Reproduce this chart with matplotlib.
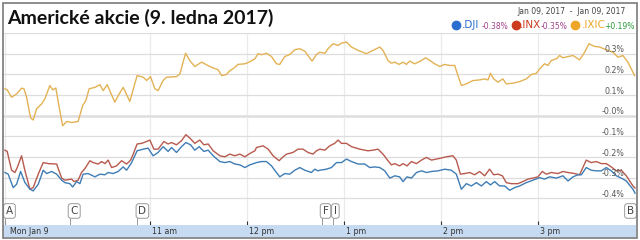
import matplotlib
matplotlib.use("Agg")
from matplotlib import pyplot as plt
from matplotlib.lines import Line2D
from matplotlib.patches import Rectangle
import matplotlib.transforms as mtransforms
import numpy as np

# minutes after 9:30 open, percent change vs previous close
ixic_t = [0, 1.4, 4.1, 7.2, 10.3, 11.8, 13.4, 15.9, 17.5, 19.6, 22.7, 24.7, 27.8, 29.5, 31.5,
          33.6, 35.7, 38.2, 41.3, 45.3, 48.1, 50.1, 52.1, 55.7, 58.8, 60.8, 63.3, 68.0, 70.1,
          73.2, 77.3, 81.8, 85.6, 87.7, 90.1, 92.8, 94.8, 97.9, 100.0, 106.2, 108.3, 111.8,
          114.4, 117.5, 121.7, 124.8, 127.9, 131.9, 134.1, 137.1, 139.2, 141.2, 144.3, 148.5,
          151.1, 154.7, 156.7, 158.8, 161.9, 165.0, 168.1, 170.1, 173.2, 176.3, 179.4, 182.5,
          185.6, 190.1, 192.8, 194.9, 198.0, 200.0, 203.1, 206.2, 208.3, 211.4, 214.5, 218.6,
          223.7, 227.8, 232.0, 234.0, 237.1, 239.2, 241.3, 243.9, 246.4, 248.5, 250.5, 253.6,
          256.7, 260.4, 263.0, 266.0, 269.1, 272.2, 275.3, 278.4, 280.4, 282.5, 285.6, 289.7,
          293.8, 296.9, 299.0, 300.5, 302.5, 305.2, 308.2, 310.3, 314.4, 318.6, 322.7, 325.8,
          328.9, 331.0, 334.0, 336.1, 338.2, 341.3, 343.3, 345.4, 348.5, 351.6, 355.7, 358.8,
          361.5, 365.0, 368.1, 372.2, 376.3, 379.4, 382.5, 385.6, 389.7]
ixic_v = [0.130, 0.125, 0.089, 0.105, 0.133, 0.130, 0.089, -0.011, -0.021, 0.033, 0.057, 0.081,
          0.146, 0.125, 0.134, 0.040, -0.049, -0.028, -0.033, -0.028, 0.049, 0.073, 0.130, 0.137,
          0.150, 0.121, 0.150, 0.065, 0.097, 0.137, 0.069, 0.194, 0.186, 0.170, 0.189, 0.130,
          0.121, 0.170, 0.186, 0.189, 0.202, 0.302, 0.267, 0.238, 0.259, 0.246, 0.234, 0.222,
          0.194, 0.199, 0.218, 0.227, 0.248, 0.251, 0.259, 0.275, 0.300, 0.295, 0.302, 0.286,
          0.251, 0.248, 0.286, 0.296, 0.319, 0.324, 0.312, 0.264, 0.296, 0.307, 0.302, 0.324,
          0.348, 0.340, 0.351, 0.356, 0.332, 0.316, 0.300, 0.316, 0.332, 0.316, 0.267, 0.254,
          0.259, 0.248, 0.259, 0.248, 0.264, 0.251, 0.262, 0.280, 0.267, 0.251, 0.238, 0.248,
          0.243, 0.243, 0.194, 0.146, 0.154, 0.170, 0.173, 0.178, 0.173, 0.205, 0.178, 0.162,
          0.178, 0.154, 0.157, 0.165, 0.178, 0.199, 0.205, 0.227, 0.251, 0.243, 0.267, 0.275,
          0.291, 0.280, 0.286, 0.291, 0.270, 0.307, 0.348, 0.335, 0.332, 0.319, 0.307, 0.283,
          0.291, 0.259, 0.194]

inx_t = [0, 1.4, 4.1, 6.2, 7.6, 10.3, 12.4, 15.5, 17.5, 20.6, 23.7, 26.8, 32.0, 35.1, 37.1,
         41.3, 42.7, 45.3, 47.4, 49.5, 52.6, 54.6, 57.7, 59.8, 61.9, 63.9, 66.0, 69.1, 72.2,
         75.3, 77.8, 79.4, 81.8, 84.6, 87.7, 89.7, 92.2, 94.8, 98.4, 101.0, 103.1, 106.2, 109.3,
         112.0, 114.4, 117.5, 120.6, 123.1, 125.8, 128.9, 133.0, 136.1, 139.2, 142.3, 145.4,
         148.5, 151.6, 154.7, 155.7, 159.8, 162.9, 166.0, 169.7, 172.2, 174.3, 178.3, 181.4,
         184.5, 187.6, 190.7, 192.8, 194.9, 198.0, 201.0, 204.1, 206.2, 208.3, 211.4, 214.5,
         219.6, 224.7, 227.8, 230.9, 234.0, 237.1, 239.2, 241.3, 244.3, 246.4, 248.9, 251.6,
         254.7, 257.8, 260.9, 264.0, 267.1, 270.1, 273.2, 277.3, 279.4, 281.9, 284.6, 287.7,
         290.7, 293.8, 296.9, 300.0, 302.5, 305.2, 307.9, 310.3, 313.4, 317.5, 320.6, 323.7,
         326.8, 329.9, 332.6, 335.1, 338.2, 342.3, 345.4, 348.5, 352.6, 355.7, 357.7, 359.8,
         362.9, 366.0, 369.1, 372.2, 375.3, 378.4, 381.5, 384.6, 388.7, 390]
inx_v = [-0.167, -0.173, -0.264, -0.275, -0.251, -0.194, -0.267, -0.356, -0.348, -0.283, -0.227,
         -0.232, -0.234, -0.302, -0.312, -0.307, -0.319, -0.312, -0.275, -0.256, -0.218, -0.227,
         -0.234, -0.222, -0.232, -0.215, -0.251, -0.243, -0.218, -0.234, -0.215, -0.186, -0.137,
         -0.134, -0.125, -0.118, -0.162, -0.162, -0.125, -0.137, -0.130, -0.141, -0.121, -0.092,
         -0.108, -0.134, -0.118, -0.141, -0.137, -0.170, -0.194, -0.199, -0.186, -0.194, -0.186,
         -0.199, -0.183, -0.170, -0.154, -0.146, -0.162, -0.194, -0.218, -0.199, -0.186, -0.178,
         -0.162, -0.162, -0.178, -0.186, -0.170, -0.162, -0.167, -0.146, -0.134, -0.118, -0.134,
         -0.134, -0.150, -0.162, -0.170, -0.167, -0.162, -0.186, -0.218, -0.238, -0.232, -0.243,
         -0.232, -0.243, -0.222, -0.232, -0.215, -0.202, -0.215, -0.210, -0.205, -0.199, -0.194,
         -0.215, -0.283, -0.280, -0.275, -0.286, -0.270, -0.291, -0.259, -0.286, -0.283, -0.291,
         -0.324, -0.329, -0.329, -0.319, -0.307, -0.302, -0.296, -0.270, -0.283, -0.275, -0.280,
         -0.270, -0.275, -0.280, -0.286, -0.251, -0.215, -0.227, -0.222, -0.232, -0.232, -0.248,
         -0.267, -0.264, -0.291, -0.340, -0.350]

dji_t = [0, 2.0, 5.1, 7.2, 9.7, 12.4, 15.5, 17.5, 20.6, 23.7, 25.8, 28.9, 32.0, 35.1, 37.1,
         40.2, 41.9, 44.4, 46.4, 48.4, 51.5, 55.7, 58.8, 61.9, 63.9, 67.0, 70.1, 73.2, 75.3,
         78.4, 81.8, 85.6, 88.6, 91.7, 94.8, 97.9, 101.0, 103.1, 106.2, 109.3, 112.0, 114.9,
         117.5, 120.2, 123.1, 125.8, 128.9, 133.0, 136.1, 139.2, 142.3, 145.4, 148.5, 151.6,
         155.7, 158.8, 161.9, 165.0, 170.1, 173.2, 176.3, 179.4, 182.5, 185.6, 189.7, 191.8,
         193.8, 194.9, 199.0, 202.1, 205.2, 208.3, 211.4, 214.5, 218.6, 222.7, 225.8, 228.9,
         232.0, 235.1, 238.2, 241.3, 244.3, 246.4, 248.9, 251.6, 254.7, 257.8, 260.9, 264.0,
         268.1, 272.2, 276.3, 279.4, 282.5, 285.6, 288.7, 291.8, 294.9, 298.0, 300.5, 303.1,
         306.2, 309.3, 312.4, 315.5, 318.6, 322.7, 326.8, 331.0, 334.0, 337.1, 341.3, 345.4,
         348.5, 351.6, 354.7, 356.8, 359.8, 362.9, 366.0, 369.1, 372.2, 375.3, 378.4, 381.5,
         384.6, 388.7, 390]
dji_v = [-0.275, -0.283, -0.348, -0.332, -0.270, -0.324, -0.356, -0.364, -0.332, -0.264, -0.280,
         -0.270, -0.283, -0.312, -0.324, -0.329, -0.345, -0.319, -0.329, -0.283, -0.280, -0.296,
         -0.283, -0.286, -0.275, -0.280, -0.270, -0.248, -0.264, -0.227, -0.170, -0.162, -0.157,
         -0.194, -0.178, -0.150, -0.173, -0.154, -0.178, -0.150, -0.130, -0.141, -0.167, -0.150,
         -0.173, -0.167, -0.194, -0.222, -0.227, -0.222, -0.234, -0.238, -0.251, -0.238, -0.227,
         -0.222, -0.222, -0.243, -0.296, -0.280, -0.283, -0.264, -0.251, -0.264, -0.275, -0.259,
         -0.267, -0.264, -0.259, -0.251, -0.227, -0.227, -0.210, -0.222, -0.234, -0.234, -0.251,
         -0.248, -0.251, -0.267, -0.302, -0.291, -0.296, -0.319, -0.296, -0.302, -0.275, -0.267,
         -0.275, -0.270, -0.267, -0.259, -0.264, -0.283, -0.356, -0.329, -0.340, -0.324, -0.340,
         -0.319, -0.335, -0.319, -0.340, -0.340, -0.361, -0.348, -0.340, -0.324, -0.312, -0.300,
         -0.307, -0.296, -0.302, -0.291, -0.316, -0.296, -0.286, -0.286, -0.251, -0.264, -0.267,
         -0.267, -0.251, -0.267, -0.291, -0.302, -0.316, -0.356, -0.375]

y_ticks = [0.3, 0.2, 0.1, 0.0, -0.1, -0.2, -0.3, -0.4]
y_labels = ['0.3%', '0.2%', '0.1%', '-0.0%', '-0.1%', '-0.2%', '-0.3%', '-0.4%']
hour_ticks = [0, 90, 150, 210, 270, 330]
hour_labels = ['Mon Jan 9', '11 am', '12 pm', '1 pm', '2 pm', '3 pm']
event_labels = ['A', 'C', 'D', 'F', 'I', 'B']
event_times = [0, 40, 82, 196, 203, 390]

legend_names = ['.DJI', '.INX', '.IXIC']
legend_changes = ['-0.38%', '-0.35%', '+0.19%']

W, H = 640, 240
fig = plt.figure(figsize=(6.4, 2.4), dpi=100)


def box(l, t, r, b):
    return [l / W, 1 - b / H, (r - l) / W, (b - t) / H]


def fp(x, y):
    return x / W, 1 - y / H


ax = fig.add_axes(box(3, 33, 636, 225))
ax.set_xlim(-1.2, 390.6)
ax.set_ylim(-0.529, 0.4)
for s in ax.spines.values():
    s.set_visible(False)

ax.set_yticks([0.4] + y_ticks)
ax.set_xticks(hour_ticks)
ax.grid(axis='y', color='#dddddd', lw=0.9)
ax.grid(axis='x', color='#eaeaea', lw=0.9)
ax.tick_params(axis='y', length=0, labelleft=False)
ax.tick_params(axis='x', direction='in', length=3, width=0.8, color='#333333',
               labelbottom=False, pad=0)
ax.axhline(0.0, color='#8c8380', lw=1.0, zorder=1.5)

ax.plot(ixic_t, ixic_v, color='#e3b255', lw=1.0, zorder=3)
ax.plot(inx_t, inx_v, color='#b85a4e', lw=1.0, zorder=3)
ax.plot(dji_t, dji_v, color='#3f7db5', lw=1.0, zorder=3)

trans_y = mtransforms.blended_transform_factory(ax.transAxes, ax.transData)
for v, lab in zip(y_ticks, y_labels):
    ax.text(0.981, v + 0.006, lab, transform=trans_y, ha='right', va='baseline',
            fontsize=5.7, color='#555555', zorder=4)

# event flags
trans_x = mtransforms.blended_transform_factory(ax.transData, ax.transAxes)
for t, lab in zip(event_times, event_labels):
    ha = 'right' if t >= 389 else 'left'
    ax.text(t + (-0.6 if ha == 'right' else 0.6), 0.073, lab, transform=trans_x, ha=ha,
            va='center', fontsize=7.5, color='#444444', zorder=5,
            bbox=dict(boxstyle='round,pad=0.22,rounding_size=0.25', fc='white', ec='#9a9a9a', lw=0.7))
    if ha == 'left':
        ax.plot([t, t], [0, 0.04], transform=trans_x, color='#9a9a9a', lw=0.7, zorder=4)

# time band
band = fig.add_axes(box(3, 225, 636, 237))
band.set_xlim(-1.2, 390.6)
band.set_ylim(0, 1)
band.set_facecolor('#c6daf1')
band.set_xticks([])
band.set_yticks([])
for s in band.spines.values():
    s.set_visible(False)
for t, lab in zip(hour_ticks, hour_labels):
    band.text(t + (3.0 if t == 0 else 1.2), 0.45, lab, ha='left', va='center',
              fontsize=5.7, color='#333333')

# title and legend
fig.text(*fp(7, 24), 'Americké akcie (9. ledna 2017)', fontsize=14, fontweight='bold',
         family='Lato', color='#111111', va='baseline', ha='left')
fig.text(*fp(626, 12), 'Jan 09, 2017  -  Jan 09, 2017', fontsize=5.5, color='#444444',
         ha='right', va='center')

name_colors = ['#2a6fcf', '#cc3b1f', '#eea62a']
change_colors = ['#a0408a', '#a0408a', '#2e9a3e']
dot_x = [456, 516, 575]
name_x = [462, 520, 582]
change_x = [482, 541, 604]
for i in range(3):
    fig.add_artist(Line2D([dot_x[i] / W], [1 - 25 / H], marker='o', ms=6,
                          color=name_colors[i], transform=fig.transFigure))
    fig.text(*fp(name_x[i], 25), legend_names[i], fontsize=7.5, color=name_colors[i],
             ha='left', va='center')
    fig.text(*fp(change_x[i], 26.5), legend_changes[i], fontsize=5.5, color=change_colors[i],
             ha='left', va='center')

fig.add_artist(Rectangle((2.5 / W, 2.5 / H), 634 / W, 235 / H, transform=fig.transFigure,
                         fill=False, ec='#7a7a7a', lw=1.2))

fig.savefig('out.png', dpi=100, facecolor='white')
